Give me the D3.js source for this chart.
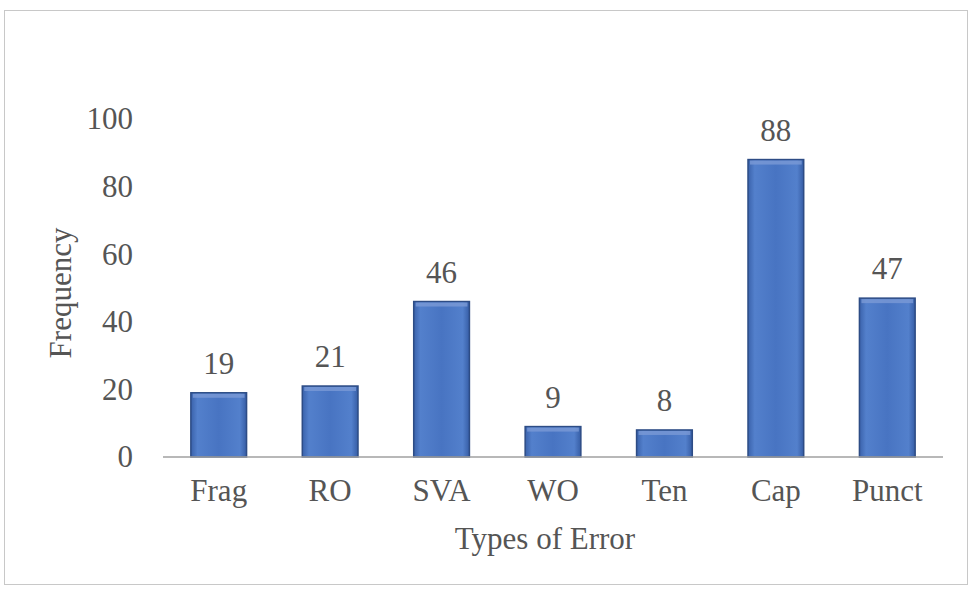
<!DOCTYPE html>
<html>
<head>
<meta charset="utf-8">
<script src="https://cdn.jsdelivr.net/npm/d3@7"></script>
<style>
  body { margin: 0; background: #fff; }
  text { font-family: "Liberation Serif", "Times New Roman", serif; fill: #555; }
</style>
</head>
<body>
<div id="chart"></div>
<script>
var svgWidth = 970;
var svgHeight = 589;

var margin = { top: 119, right: 27, bottom: 132, left: 163 };
var width = svgWidth - margin.left - margin.right;
var height = svgHeight - margin.top - margin.bottom;

// data
var categories = ["Frag", "RO", "SVA", "WO", "Ten", "Cap", "Punct"];
var frequency = [19, 21, 46, 9, 8, 88, 47];
var yTicks = [0, 20, 40, 60, 80, 100];

var fontSize = "31px";

var svg = d3.select("#chart")
    .append("svg")
    .attr("width", svgWidth)
    .attr("height", svgHeight);

// outer frame
svg.append("rect")
    .attr("x", 4.5).attr("y", 10.5)
    .attr("width", 963).attr("height", 574)
    .attr("fill", "none")
    .attr("stroke", "#c8c8c8")
    .attr("stroke-width", 1);

var defs = svg.append("defs");
var grad = defs.append("linearGradient")
    .attr("id", "barGrad")
    .attr("x1", "0").attr("x2", "1").attr("y1", "0").attr("y2", "0");
grad.append("stop").attr("offset", "0%").attr("stop-color", "#3a62ab");
grad.append("stop").attr("offset", "12%").attr("stop-color", "#5380cc");
grad.append("stop").attr("offset", "50%").attr("stop-color", "#4874c2");
grad.append("stop").attr("offset", "88%").attr("stop-color", "#5380cc");
grad.append("stop").attr("offset", "100%").attr("stop-color", "#365da5");

var chartGroup = svg.append("g")
    .attr("transform", `translate(${margin.left}, ${margin.top})`);

var xScale = d3.scaleBand()
    .domain(categories)
    .range([0, width])
    .paddingInner(0.5)
    .paddingOuter(0.25);

var yScale = d3.scaleLinear()
    .domain([0, 100])
    .range([height, 0]);

// y axis labels (no line)
var leftAxis = d3.axisLeft(yScale).tickValues(yTicks).tickSize(0).tickPadding(30);
var yAxisG = chartGroup.append("g").call(leftAxis);
yAxisG.select(".domain").remove();
yAxisG.selectAll("text")
    .style("font-size", fontSize)
    .style("font-family", "Liberation Serif, serif")
    .attr("fill", "#555");

// bars
var data = categories.map((c, i) => ({ cat: c, val: frequency[i] }));

chartGroup.selectAll("rect.bar")
    .data(data)
    .enter()
    .append("rect")
    .classed("bar", true)
    .attr("x", d => xScale(d.cat))
    .attr("y", d => yScale(d.val))
    .attr("width", xScale.bandwidth())
    .attr("height", d => height - yScale(d.val))
    .attr("fill", "url(#barGrad)")
    .attr("stroke", "#2d4c85")
    .attr("stroke-width", 1.5);

// top bevel highlight
chartGroup.selectAll("rect.bevel")
    .data(data)
    .enter()
    .append("rect")
    .classed("bevel", true)
    .attr("x", d => xScale(d.cat) + 2)
    .attr("y", d => yScale(d.val) + 1)
    .attr("width", xScale.bandwidth() - 4)
    .attr("height", 4)
    .attr("fill", "#7a9ad6")
    .attr("opacity", 0.8);

// x axis line
chartGroup.append("line")
    .attr("x1", 0).attr("x2", width)
    .attr("y1", height).attr("y2", height)
    .attr("stroke", "#a0a0a0")
    .attr("stroke-width", 1.5);

// category labels
var bottomAxis = d3.axisBottom(xScale).tickSize(0).tickPadding(22);
var xAxisG = chartGroup.append("g")
    .attr("transform", `translate(0, ${height})`)
    .call(bottomAxis);
xAxisG.select(".domain").remove();
xAxisG.selectAll("text")
    .style("font-size", fontSize)
    .style("font-family", "Liberation Serif, serif")
    .attr("fill", "#555");

// value labels
chartGroup.selectAll("text.val")
    .data(data)
    .enter()
    .append("text")
    .classed("val", true)
    .attr("x", d => xScale(d.cat) + xScale.bandwidth() / 2)
    .attr("y", d => yScale(d.val) - 19)
    .attr("text-anchor", "middle")
    .style("font-size", fontSize)
    .text(d => d.val);

// axis titles
chartGroup.append("text")
    .attr("x", width / 2 - 8)
    .attr("y", height + 92)
    .attr("text-anchor", "middle")
    .style("font-size", fontSize)
    .text("Types of Error");

chartGroup.append("text")
    .attr("transform", "rotate(-90)")
    .attr("x", -(height / 2) - 5)
    .attr("y", -92)
    .attr("text-anchor", "middle")
    .style("font-size", fontSize)
    .text("Frequency");
</script>
</body>
</html>
